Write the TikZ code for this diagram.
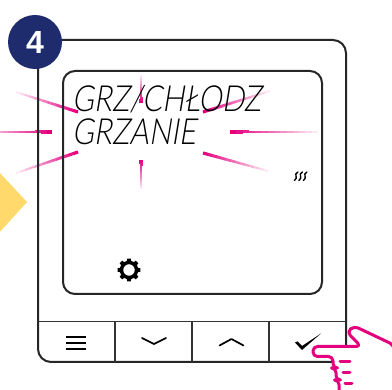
\documentclass[tikz,border=0pt]{standalone}
\usepackage{fontspec}
\usetikzlibrary{calc}
\newfontfamily\badgefont{Liberation Sans}
\newfontfamily\lcdfont{Lato Light}[FakeSlant=0.2]
\definecolor{navy}{HTML}{1E2C6E}
\definecolor{mag}{HTML}{E5007E}
\definecolor{sun}{HTML}{FFD96B}

% a glowing streak: solid at the inner end, fading out towards the outer end
\newcommand\lightray[2]{%
  \foreach \i in {0,...,13}{%
    \pgfmathsetmacro\ta{\i/14}%
    \pgfmathsetmacro\tb{(\i+1.05)/14}%
    \pgfmathsetmacro\pc{100-\i*7}%
    \pgfmathsetmacro\lw{3.2-\i*0.1}%
    \draw[color=mag!\pc!white, line width=\lw pt]
      ($#1!\ta!#2$) -- ($#1!\tb!#2$);
  }}

\tikzset{
  frame/.style={draw=black!85, line width=2pt},
  divider/.style={draw=black!80, line width=1.5pt},
  glyph/.style={draw=black, line width=1.7pt, line cap=round, line join=round},
  handline/.style={draw=mag, line width=3pt, line join=round, line cap=round},
  lcd/.style={anchor=base west, inner sep=0pt, xscale=0.82,
              text height=26pt, text depth=0pt,
              font=\lcdfont\fontsize{36}{36}\selectfont},
}

\begin{document}
\begin{tikzpicture}[x=1pt,y=-1pt]
\useasboundingbox (0,0) rectangle (392,390);

% yellow pointer on the left edge
\fill[sun] (-2,171) -- (27,202) -- (-2,234) -- cycle;

% glow rays around the blinking text
\lightray{(141,103)}{(141,75)}
\lightray{(141,160)}{(141,189)}
\lightray{(78,112)}{(16,92)}
\lightray{(52,132)}{(-25,132)}
\lightray{(78,152)}{(16,173)}
\lightray{(203,112)}{(270,91)}
\lightray{(230,132)}{(318,132)}
\lightray{(203,153)}{(268,171)}

% device body
\draw[frame, rounded corners=13pt] (38,40) rectangle (346,362);
\draw[frame, rounded corners=12pt] (63,71) rectangle (322,294);
\coordinate (bl) at (38,321.5);
\coordinate (br) at (346,321.5);
\draw[divider] (bl) -- (br);
\foreach \x in {115,192,269}
  \draw[divider] (\x,321.5) -- (\x,362);

% step badge
\node[circle, fill=navy, minimum size=54pt, inner sep=0pt] (badge) at (35,42) {};
\node[text=white, font=\badgefont\bfseries\fontsize{32}{32}\selectfont] at (badge) {4};

% display text
\node[lcd] (line1) at (72,111.5) {GRZ/CHŁODZ};
\node[lcd] (line2) at (72,145) {GRZANIE};

% heating indicator
\foreach \x in {296,300.5,305}
  \draw[line width=1.4pt, line cap=round]
    (\x+1.8,172) .. controls (\x-3,174.5) and (\x+3,177.5) .. (\x-1.6,180.5);

% settings gear
\coordinate (gc) at (129,270);
\fill[even odd rule] ($(gc)+(-13:9.3)$)
  \foreach \a in {0,45,...,315}{
    -- ($(gc)+(\a-9:11.6)$) -- ($(gc)+(\a+9:11.6)$)
    -- ($(gc)+(\a+13:9.3)$) -- ($(gc)+(\a+32:9.3)$) } -- cycle
  (gc) circle (5.8);

% button glyphs
\foreach \y in {337,343,349}
  \draw[line width=1.5pt] (66,\y) -- (86,\y);
\draw[glyph] (142,338) -- (154,344) -- (166,338);
\draw[glyph] (219.5,345.5) -- (231.5,339) -- (243.5,345.5);
\fill (295,342.5) -- (297.5,341.5) -- (302,346) -- (321,333.5) -- (302,350) -- cycle;

% pressing hand
\draw[handline, fill=white, rounded corners=4.5pt]
  (394,345) -- (354,326) -- (347,332) -- (361,346.5)
  -- (313,346.5) -- (313,356.5) -- (333,356.5) -- (333,368) -- (336,368)
  -- (336,380) -- (339,380) -- (339,394) -- (394,394) -- cycle;
\draw[handline] (340,362) -- (350,362);
\draw[handline] (343,373) -- (350,373);
\draw[handline] (345,384) -- (352,384);
\end{tikzpicture}
\end{document}
